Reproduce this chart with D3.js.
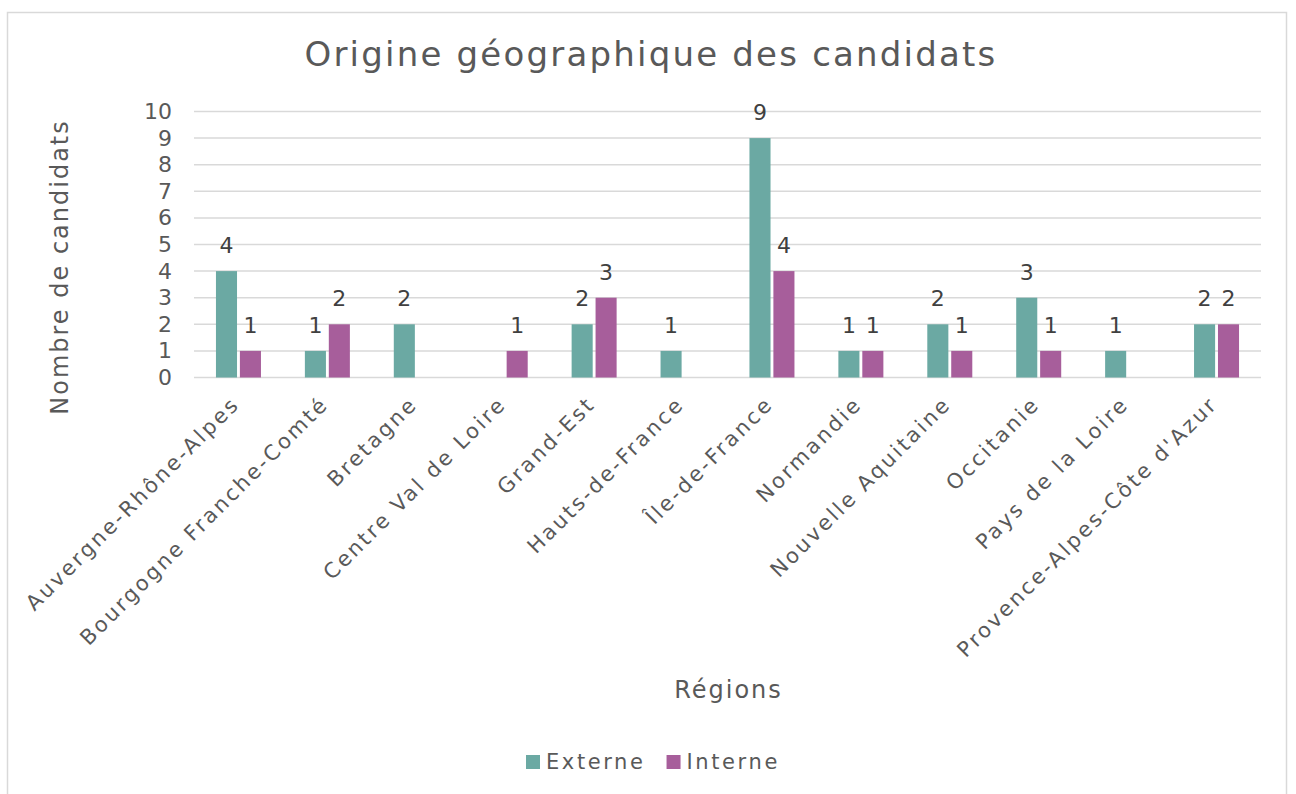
<!DOCTYPE html>
<html>
<head>
<meta charset="utf-8">
<script src="https://cdn.jsdelivr.net/npm/d3@7"></script>
<style>
  body { margin: 0; background: #fff; }
  text { font-family: "DejaVu Sans", sans-serif; fill: #595959; }
</style>
</head>
<body>
<div id="chart"></div>
<script>
const regions = ["Auvergne-Rhône-Alpes", "Bourgogne Franche-Comté", "Bretagne", "Centre Val de Loire",
  "Grand-Est", "Hauts-de-France", "Île-de-France", "Normandie", "Nouvelle Aquitaine",
  "Occitanie", "Pays de la Loire", "Provence-Alpes-Côte d'Azur"];
const externe = [4, 1, 2, null, 2, 1, 9, 1, 2, 3, 1, 2];
const interne = [1, 2, null, 1, 3, null, 4, 1, 1, 1, null, 2];
const seriesNames = ["Externe", "Interne"];
const colors = ["#6ba9a3", "#a75e9b"];
const yTicks = [0, 1, 2, 3, 4, 5, 6, 7, 8, 9, 10];

let W = 1296, H = 794;
let m = {left: 194, right: 1261, top: 111.5, bottom: 377.5};

var svg = d3.select("#chart").append("svg")
  .attr("width", W).attr("height", H);

// frame
svg.append("rect").attr("x", 7.5).attr("y", 12.5).attr("width", 1279).attr("height", 800)
  .attr("fill", "#fff").attr("stroke", "#d9d9d9").attr("stroke-width", 1.5);

var x = d3.scaleBand().domain(regions).range([m.left, m.right]);
var x1 = d3.scaleBand().domain(seriesNames).range([0, 45]).paddingInner(0.12);
var y = d3.scaleLinear().domain([0, 10]).range([m.bottom, m.top]);

// gridlines
svg.append("g").selectAll("line").data(yTicks).join("line")
  .attr("x1", m.left).attr("x2", m.right)
  .attr("y1", d => y(d)).attr("y2", d => y(d))
  .attr("stroke", "#d9d9d9").attr("stroke-width", 1.5);

// y axis labels
var yAxis = d3.axisLeft(y).tickValues(yTicks).tickSize(0).tickPadding(0);
var gy = svg.append("g").attr("transform", "translate(172,0)").call(yAxis);
gy.select(".domain").remove();
gy.selectAll("text").style("font-size", "22px").attr("fill", "#595959")
  .style("font-family", "DejaVu Sans").attr("text-anchor", "end");

var data = seriesNames.map((s, i) => ({name: s, color: colors[i], values: i === 0 ? externe : interne}));

var bars = svg.append("g");
data.forEach(function(s) {
  var pts = s.values.map((v, j) => ({region: regions[j], v: v})).filter(d => d.v != null);
  bars.selectAll(null).data(pts).join("rect")
    .attr("x", d => x(d.region) + (x.bandwidth() - 45) / 2 + x1(s.name))
    .attr("width", x1.bandwidth())
    .attr("y", d => y(d.v))
    .attr("height", d => y(0) - y(d.v))
    .attr("fill", s.color);
  bars.selectAll(null).data(pts).join("text")
    .attr("x", d => x(d.region) + (x.bandwidth() - 45) / 2 + x1(s.name) + x1.bandwidth() / 2)
    .attr("y", d => y(d.v) - 18)
    .attr("text-anchor", "middle")
    .style("font-size", "22px")
    .style("fill", "#404040")
    .text(d => d.v);
});

// x labels, rotated
svg.append("g").selectAll("text").data(regions).join("text")
  .attr("transform", d => "translate(" + (x(d) + x.bandwidth() / 2 - 8) + ",395) rotate(-45)")
  .attr("text-anchor", "end")
  .attr("dy", "0.7em")
  .style("font-size", "21px")
  .style("letter-spacing", "2.6px")
  .text(d => d);

// title
svg.append("text").attr("x", 651).attr("y", 66).attr("text-anchor", "middle")
  .style("font-size", "34px").style("letter-spacing", "2.2px")
  .text("Origine géographique des candidats");

// axis titles
svg.append("text").attr("transform", "translate(68,267) rotate(-90)")
  .attr("text-anchor", "middle").style("font-size", "24px").style("letter-spacing", "2px")
  .text("Nombre de candidats");
svg.append("text").attr("x", (m.left + m.right) / 2 + 1).attr("y", 698).attr("text-anchor", "middle")
  .style("font-size", "24px").style("letter-spacing", "2px").text("Régions");

// legend
var leg = svg.append("g").attr("transform", "translate(526,755)");
var lx = 0;
data.forEach(function(s) {
  leg.append("rect").attr("x", lx).attr("y", 0).attr("width", 14).attr("height", 14).attr("fill", s.color);
  var t = leg.append("text").attr("x", lx + 20).attr("y", 14)
    .style("font-size", "21px").style("letter-spacing", "2.6px").text(s.name);
  lx += 20 + t.node().getComputedTextLength() + 21;
});
</script>
</body>
</html>
